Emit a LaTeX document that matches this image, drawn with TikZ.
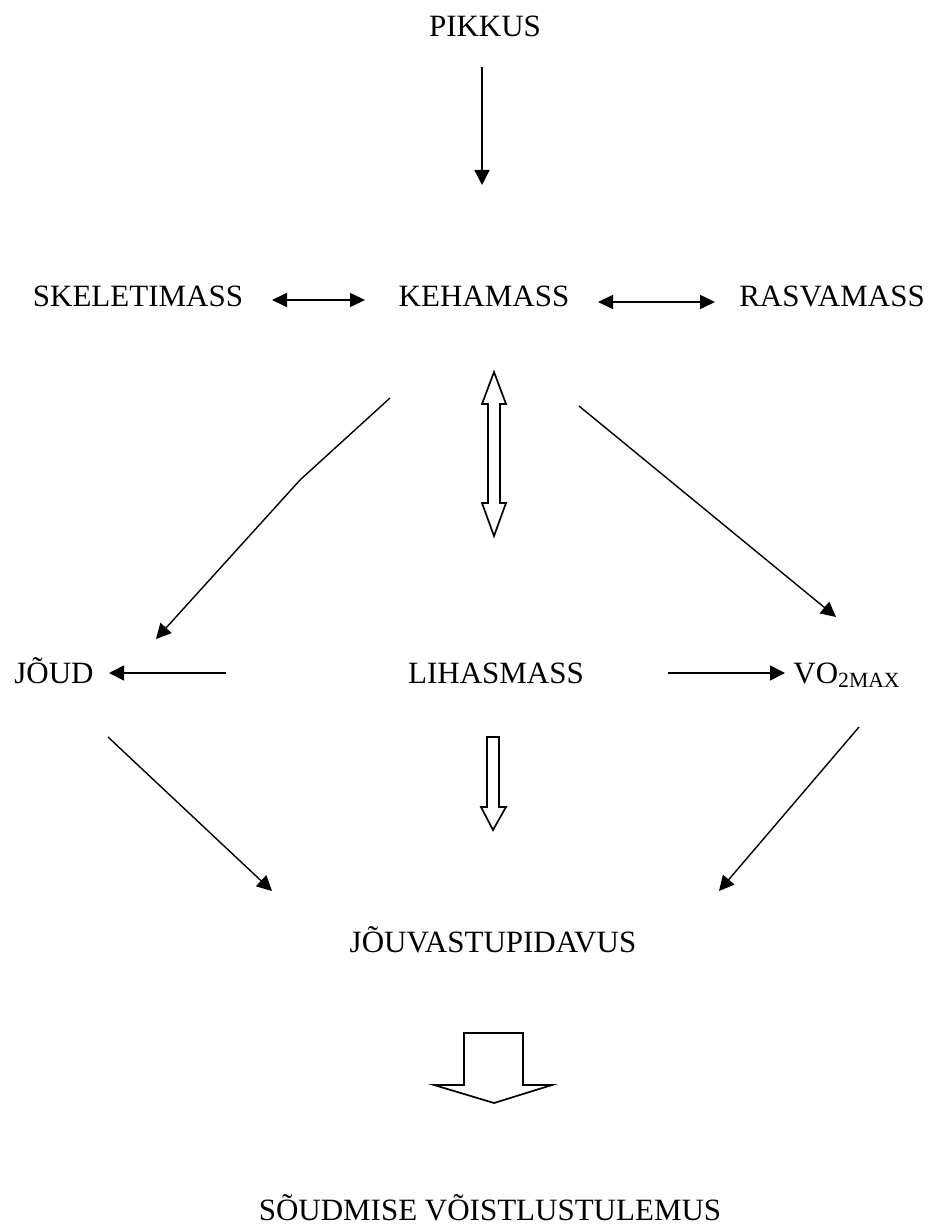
\documentclass[tikz,border=0pt]{standalone}
\usepackage{fontspec}
\setmainfont{Liberation Serif}
\usetikzlibrary{arrows.meta}
\tikzset{
  lbl/.style={anchor=base,inner sep=0pt,font=\fontsize{15.5}{18}\selectfont},
  arr/.style={-{Triangle[length=7.5pt,width=7.5pt]},line width=0.7pt},
  darr/.style={{Triangle[length=7.5pt,width=7pt]}-{Triangle[length=7.5pt,width=7pt]},line width=0.8pt},
  hollow/.style={draw,line width=0.85pt,line join=miter}
}
\begin{document}
\begin{tikzpicture}[x=0.5pt,y=-0.5pt]
\useasboundingbox (0,0) rectangle (928,1224);
\node [lbl] (v1) at (485,37) {PIKKUS};
\node [lbl] (v2) at (138,307) {SKELETIMASS};
\node [lbl] (v3) at (484,307) {KEHAMASS};
\node [lbl] (v4) at (832,307) {RASVAMASS};
\node [lbl] (v5) at (54,683) {JÕUD};
\node [lbl] (v6) at (496,683) {LIHASMASS};
\node [lbl,anchor=base west] (v7) at (793,683) {VO\textsubscript{2MAX}};
\node [lbl] (v8) at (493,952) {JÕUVASTUPIDAVUS};
\node [lbl] (v9) at (490,1220) {SÕUDMISE VÕISTLUSTULEMUS};
% arrow ends
\coordinate (p1) at (482,67);
\coordinate (p2) at (482,185);
\coordinate (p3) at (272,300);
\coordinate (p4) at (365,300);
\coordinate (p5) at (598,302);
\coordinate (p6) at (715,302);
\coordinate (p7) at (390,398);
\coordinate (p8) at (300,480);
\coordinate (p9) at (156,639);
\coordinate (p10) at (579,406);
\coordinate (p11) at (836,617);
\coordinate (p12) at (226,673);
\coordinate (p13) at (109,673);
\coordinate (p14) at (668,673);
\coordinate (p15) at (785,673);
\coordinate (p16) at (108,737);
\coordinate (p17) at (272,891);
\coordinate (p18) at (859,727);
\coordinate (p19) at (719,891);
\draw [arr] (p1) -- (p2);
\draw [darr] (p3) -- (p4);
\draw [darr] (p5) -- (p6);
\draw [arr] (p7) -- (p8) -- (p9);
\draw [arr] (p10) -- (p11);
\draw [arr,line width=0.8pt] (p12) -- (p13);
\draw [arr,line width=0.8pt] (p14) -- (p15);
\draw [arr] (p16) -- (p17);
\draw [arr] (p18) -- (p19);
% hollow arrows
\draw [hollow] (494,372) -- (506,404) -- (500,404) -- (500,503) -- (506,503) -- (494,536)
  -- (482,503) -- (488,503) -- (488,404) -- (482,404) -- cycle;
\draw [hollow] (487,737) -- (499,737) -- (499,807) -- (506,807) -- (493,830) -- (481,807)
  -- (487,807) -- cycle;
\draw [hollow] (464,1033) -- (523,1033) -- (523,1085) -- (552,1085) -- (494,1103) -- (434,1085)
  -- (464,1085) -- cycle;
\end{tikzpicture}
\end{document}
